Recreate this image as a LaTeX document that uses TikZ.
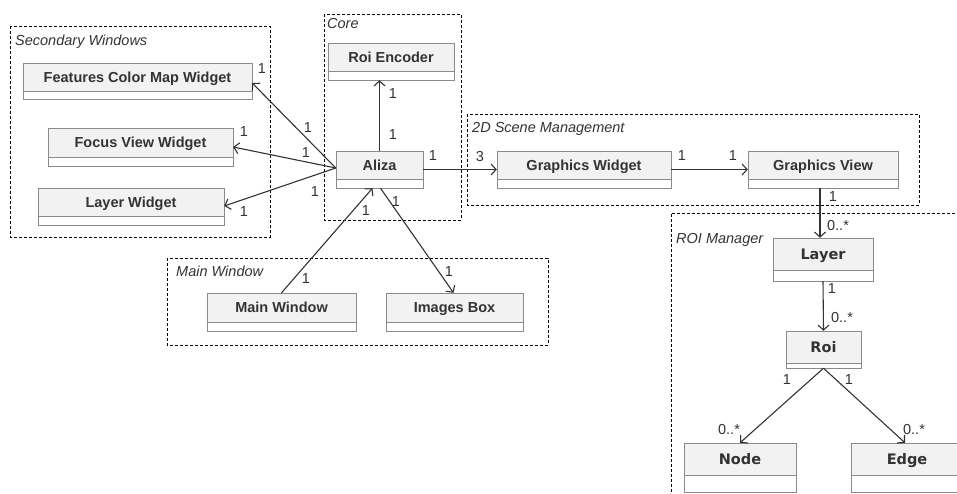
\documentclass[tikz,border=0pt]{standalone}
\usepackage{fontspec}
\setmainfont{Liberation Sans}
\newfontfamily\roifont{DejaVu Sans}
\usetikzlibrary{arrows.meta}
\definecolor{clsfill}{HTML}{F2F2F2}
\definecolor{clsline}{HTML}{8A8A8A}
\definecolor{txt}{HTML}{333333}
\tikzstyle{cls}=[draw=clsline, fill=clsfill, text=txt, font=\bfseries, inner sep=0pt, minimum height=28pt, text height=10.5pt, text depth=0pt]
\tikzstyle{roicls}=[cls, font=\roifont\bfseries, minimum height=32pt]
\tikzstyle{comp}=[draw=clsline, fill=white]
\tikzstyle{group}=[draw=black, dash pattern=on 3pt off 2pt, line width=0.8pt]
\tikzstyle{glabel}=[text=txt, font=\itshape, anchor=base west, inner sep=0pt]
\tikzstyle{assoc}=[draw=txt, line width=1.1pt, -{Straight Barb[length=5pt,width=11pt]}]
\tikzstyle{mult}=[text=txt, inner sep=0pt]

\begin{document}
\fontsize{14.5}{17}\selectfont
\begin{tikzpicture}[x=1pt, y=-1pt]
    \useasboundingbox (0,0) rectangle (957,493);
    % groups
    \draw[group] (10,26) rectangle (270,237);
    \draw[group] (324,14) rectangle (461,220);
    \draw[group] (467,114) rectangle (919,205);
    \draw[group] (167,258) rectangle (548,345);
    \draw[group] (980,213) -- (671,213) -- (671,510);
    \node[glabel] (gsw) at (15,45) {Secondary Windows};
    \node[glabel] (gcore) at (327,28) {Core};
    \node[glabel] (gscene) at (472,132) {2D Scene Management};
    \node[glabel] (gmain) at (176,276) {Main Window};
    \node[glabel] (groi) at (676,243) {ROI Manager};

    % classes
    \node[cls, minimum width=229pt] (fcm) at (137.5,77) {Features Color Map Widget};
    \node[cls, minimum width=185pt, minimum height=29pt] (fvw) at (140.5,142.5) {Focus View Widget};
    \node[cls, minimum width=186pt] (lw) at (131,202) {Layer Widget};
    \node[cls, minimum width=126pt] (enc) at (391,57) {Roi Encoder};
    \node[cls, minimum width=87pt] (aliza) at (379.5,165) {Aliza};
    \node[cls, minimum width=174pt] (gw) at (584,165) {Graphics Widget};
    \node[cls, minimum width=150pt] (gv) at (823,165) {Graphics View};
    \node[cls, minimum width=149pt, minimum height=29pt] (mw) at (281.5,307.5) {Main Window};
    \node[cls, minimum width=137pt, minimum height=29pt] (ib) at (454.5,307.5) {Images Box};
    \node[roicls, minimum width=100pt] (layer) at (823,254) {Layer};
    \node[roicls, minimum width=75pt] (roi) at (823.5,347) {Roi};
    \node[roicls, minimum width=112pt] (node) at (740,459) {Node};
    \node[roicls, minimum width=112pt] (edge) at (907,459) {Edge};
    \foreach \n/\h in {fcm/8, fvw/9, lw/9, enc/9, aliza/9, gw/9, gv/9, mw/9, ib/9, layer/11, roi/5, node/17, edge/17}
        \draw[comp] (\n.south west) rectangle ([yshift=-\h pt]\n.south east);

    % associations
    \coordinate (alizaw) at ([yshift=-3pt]aliza.west);
    \draw[assoc] (alizaw) -- ([yshift=-6pt]fcm.east);
    \draw[assoc] (alizaw) -- ([yshift=-4.5pt]fvw.east);
    \draw[assoc] (alizaw) -- ([yshift=-4pt]lw.east);
    \draw[assoc] (aliza.north) -- ([yshift=-9pt]aliza.north |- enc.south);
    \draw[assoc] ([yshift=-4.5pt]aliza.east) -- ([yshift=-4.5pt]gw.west);
    \draw[assoc] ([yshift=-4.5pt]gw.east) -- ([yshift=-4.5pt]gv.west);
    \draw[assoc] ([xshift=-3pt,yshift=-9pt]gv.south) -- ([xshift=-3pt]layer.north);
    \draw[assoc] ([yshift=-11pt]layer.south) -- (roi.north);
    \draw[assoc] ([yshift=-5pt]roi.south) -- (node.north);
    \draw[assoc] ([yshift=-5pt]roi.south) -- ([xshift=-2pt]edge.north);
    \draw[assoc] (mw.north) -- ([xshift=-7pt,yshift=-9pt]aliza.south);
    \draw[assoc] ([xshift=1pt,yshift=-9pt]aliza.south) -- ([xshift=-1pt]ib.north);

    % multiplicities
    \node[mult] (m1) at (262,69) {1};
    \node[mult] (m2) at (308,128) {1};
    \node[mult] (m3) at (244,132) {1};
    \node[mult] (m4) at (306,153) {1};
    \node[mult] (m5) at (244,212) {1};
    \node[mult] (m6) at (315,192) {1};
    \node[mult] (m7) at (393,94) {1};
    \node[mult] (m8) at (393,135) {1};
    \node[mult] (m9) at (433,156) {1};
    \node[mult] (m10) at (480,157) {3};
    \node[mult] (m11) at (682,156) {1};
    \node[mult] (m12) at (733,156) {1};
    \node[mult] (m13) at (833,197) {1};
    \node[mult] (m14) at (838,226) {0..*};
    \node[mult] (m15) at (832,289) {1};
    \node[mult] (m16) at (842,318) {0..*};
    \node[mult] (m17) at (787,380) {1};
    \node[mult] (m18) at (729,429) {0..*};
    \node[mult] (m19) at (849,380) {1};
    \node[mult] (m20) at (914,429) {0..*};
    \node[mult] (m21) at (366,211) {1};
    \node[mult] (m22) at (306,279) {1};
    \node[mult] (m23) at (396,202) {1};
    \node[mult] (m24) at (449,272) {1};
\end{tikzpicture}
\end{document}
